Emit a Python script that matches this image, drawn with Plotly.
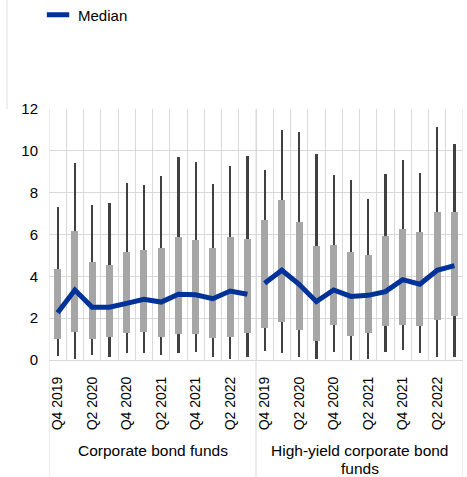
import plotly.graph_objects as go

quarters = ["Q4 2019", "Q1 2020", "Q2 2020", "Q3 2020", "Q4 2020", "Q1 2021",
            "Q2 2021", "Q3 2021", "Q4 2021", "Q1 2022", "Q2 2022", "Q3 2022"]
groups = ["Corporate bond funds", "High-yield corporate bond<br>funds"]

# Corporate bond funds
corp_min = [0.19, 0.03, 0.24, 0.13, 0.32, 0.32, 0.22, 0.35, 0.40, 0.13, 0.06, 0.13]
corp_q1 = [0.99, 1.34, 1.02, 1.08, 1.29, 1.35, 1.12, 1.23, 1.26, 1.04, 1.10, 1.31]
corp_med = [2.26, 3.35, 2.52, 2.52, 2.71, 2.90, 2.77, 3.14, 3.12, 2.93, 3.30, 3.14]
corp_q3 = [4.33, 6.17, 4.69, 4.54, 5.15, 5.24, 5.35, 5.86, 5.74, 5.37, 5.88, 5.80]
corp_max = [7.33, 9.42, 7.41, 7.52, 8.48, 8.38, 8.80, 9.69, 9.48, 8.40, 9.27, 9.74]

# High-yield corporate bond funds
hy_min = [0.43, 0.32, 0.16, 0.06, 0.40, 0.00, 0.06, 0.40, 0.48, 0.35, 0.16, 0.16]
hy_q1 = [1.51, 1.83, 1.43, 0.92, 1.67, 1.13, 1.29, 1.64, 1.66, 1.64, 1.91, 2.10]
hy_med = [3.67, 4.29, 3.62, 2.79, 3.35, 3.04, 3.09, 3.27, 3.84, 3.62, 4.29, 4.51]
hy_q3 = [6.71, 7.63, 6.61, 5.45, 5.50, 5.16, 5.04, 5.93, 6.25, 6.12, 7.08, 7.08]
hy_max = [9.07, 10.98, 10.88, 9.85, 8.83, 8.61, 7.71, 8.89, 9.56, 8.92, 11.14, 10.34]

BLUE = "#003299"
BOX = "#a6a6a6"
WHISK = "#404040"
GRID = "#d9d9d9"
FONT = "Arial, Liberation Sans, sans-serif"

n = len(quarters)
x1 = list(range(n))
x2 = [i + n for i in range(n)]
all_x = x1 + x2
mins = corp_min + hy_min
q1s = corp_q1 + hy_q1
q3s = corp_q3 + hy_q3
maxs = corp_max + hy_max

fig = go.Figure()
# whiskers (min-max)
fig.add_trace(go.Bar(x=all_x, y=[b - a for a, b in zip(mins, maxs)], base=mins,
                     width=0.13, marker=dict(color=WHISK, line=dict(width=0)),
                     showlegend=False, hoverinfo="skip"))
# interquartile boxes
fig.add_trace(go.Bar(x=all_x, y=[b - a for a, b in zip(q1s, q3s)], base=q1s,
                     width=0.4, marker=dict(color=BOX, line=dict(width=0)),
                     showlegend=False, hoverinfo="skip"))
# medians
fig.add_trace(go.Scatter(x=x1, y=corp_med, mode="lines",
                         line=dict(color=BLUE, width=5), showlegend=False))
fig.add_trace(go.Scatter(x=x2, y=hy_med, mode="lines",
                         line=dict(color=BLUE, width=5), showlegend=False))
# legend entry
fig.add_trace(go.Scatter(x=[None], y=[None], mode="markers", name="Median",
                         marker=dict(symbol="line-ew", size=16, color=BLUE,
                                     line=dict(color=BLUE, width=6))))

tick_vals = [i for i in all_x if i % 2 == 0]
tick_text = [(quarters + quarters)[i] for i in tick_vals]

fig.update_layout(
    width=467, height=477,
    margin=dict(l=49, r=4, t=109, b=117, autoexpand=False),
    paper_bgcolor="white", plot_bgcolor="white",
    barmode="overlay", bargap=0,
    font=dict(family=FONT, size=13, color="#000000"),
    legend=dict(x=-0.0265, xanchor="left", y=1.44, yanchor="top",
                font=dict(size=15), bgcolor="rgba(0,0,0,0)"),
    showlegend=True,
)
fig.update_xaxes(range=[-0.5, 2 * n - 0.5], tickmode="array", tickvals=tick_vals,
                 ticktext=tick_text, tickangle=-90, showgrid=False, zeroline=False,
                 ticks="", ticklabelstandoff=10, tickfont=dict(size=14),
                 minor=dict(tickmode="linear", tick0=-0.5, dtick=1, showgrid=True,
                            gridcolor=GRID, gridwidth=1),
                 showline=True, linecolor=GRID, linewidth=1, fixedrange=True,
                 automargin=False)
fig.update_yaxes(range=[0, 12], dtick=2, showgrid=True, gridcolor=GRID, gridwidth=1,
                 zeroline=False, ticks="", ticklabelstandoff=10, tickfont=dict(size=15),
                 fixedrange=True, automargin=False)

# group separators and labels
for xv in [-0.5, n - 0.5, 2 * n - 0.5]:
    fig.add_shape(type="line", xref="x", yref="paper", x0=xv, x1=xv, y0=1, y1=-0.47,
                  line=dict(color=GRID, width=1), layer="below")
for gi, g in enumerate(groups):
    for li, line_text in enumerate(g.split("<br>")):
        fig.add_annotation(x=gi * n + (n - 1) / 2, xref="x",
                           y=-(90 + 18 * li) / 251, yref="paper",
                           yanchor="middle", text=line_text, showarrow=False,
                           font=dict(size=15.5, family=FONT))
# left frame line at top
fig.add_shape(type="line", xref="paper", yref="paper", x0=-42 / 414, x1=-42 / 414,
              y0=1, y1=1 + 109 / 251, line=dict(color="#e0e0e0", width=1))

fig.write_html("out.html", config={"displayModeBar": False},
               post_script="document.body.style.margin='0';document.body.style.overflow='hidden';")
